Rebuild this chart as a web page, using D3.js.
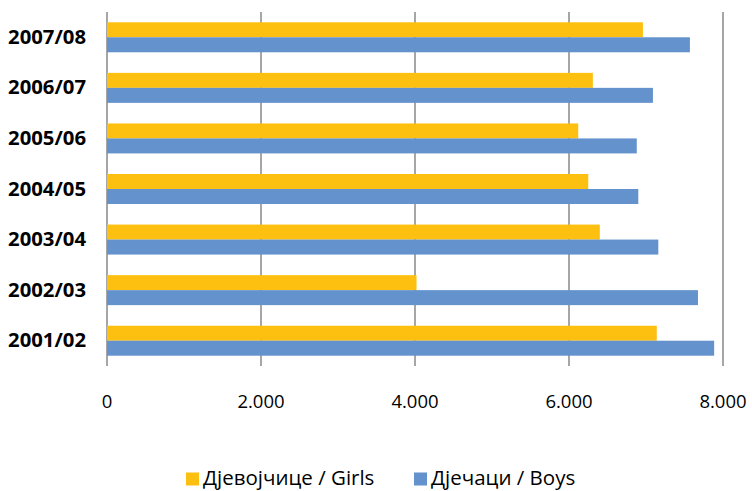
<!DOCTYPE html>
<html>
<head>
<meta charset="utf-8">
<script src="https://cdn.jsdelivr.net/npm/d3@7"></script>
<style>
  html, body { margin: 0; padding: 0; background: #fff; }
  svg { display: block; }
</style>
</head>
<body>
<svg id="chart" width="752" height="491"></svg>
<script>
const categories = ["2007/08", "2006/07", "2005/06", "2004/05", "2003/04", "2002/03", "2001/02"];
const girls = [6960, 6310, 6120, 6250, 6400, 4020, 7140];
const boys  = [7570, 7090, 6880, 6900, 7160, 7675, 7885];
const xTicks = [0, 2000, 4000, 6000, 8000];
const seriesNames = ["Дјевојчице / Girls", "Дјечаци / Boys"];
const colors = ["#FDC010", "#6392CC"];

const svg = d3.select("#chart");
const x = d3.scaleLinear().domain([0, 8000]).range([107, 723]);
const y = d3.scaleBand().domain(categories).range([12, 366]).paddingInner(0.407).paddingOuter(0.2035);
const sub = d3.scaleBand().domain([0, 1]).range([0, y.bandwidth()]);

// gridlines
svg.append("g").selectAll("line").data(xTicks).join("line")
  .attr("x1", d => x(d)).attr("x2", d => x(d))
  .attr("y1", 12).attr("y2", 366)
  .attr("stroke", "#a6a6a6").attr("stroke-width", 2);

const fmt = d => d3.format(",")(d).replace(/,/g, ".");
svg.append("g").selectAll("text").data(xTicks).join("text")
  .attr("x", d => x(d)).attr("y", 408)
  .attr("text-anchor", "middle")
  .attr("font-family", "'Open Sans', sans-serif").attr("font-size", 18.5)
  .attr("fill", "#000")
  .text(fmt);

const series = [girls, boys];
series.forEach((vals, si) => {
  svg.append("g").selectAll("rect").data(categories).join("rect")
    .attr("x", x(0))
    .attr("y", (c) => y(c) + sub(si))
    .attr("width", (c, i) => x(vals[i]) - x(0))
    .attr("height", sub.bandwidth())
    .attr("fill", colors[si]);
});

svg.append("g").selectAll("text").data(categories).join("text")
  .attr("x", 86).attr("y", c => y(c) + y.bandwidth() / 2 + 6.5)
  .attr("text-anchor", "end")
  .attr("font-family", "'Open Sans', sans-serif").attr("font-weight", "bold").attr("font-size", 20.3)
  .attr("fill", "#000")
  .text(c => c);

// legend
const legendX = [186, 414];
const lg = svg.append("g");
seriesNames.forEach((n, i) => {
  lg.append("rect").attr("x", legendX[i]).attr("y", 472.5).attr("width", 13).attr("height", 13).attr("fill", colors[i]);
  lg.append("text").attr("x", legendX[i] + 17).attr("y", 485)
    .attr("font-family", "'Open Sans', sans-serif").attr("font-size", 20.5).attr("fill", "#000")
    .text(n);
});
</script>
</body>
</html>
